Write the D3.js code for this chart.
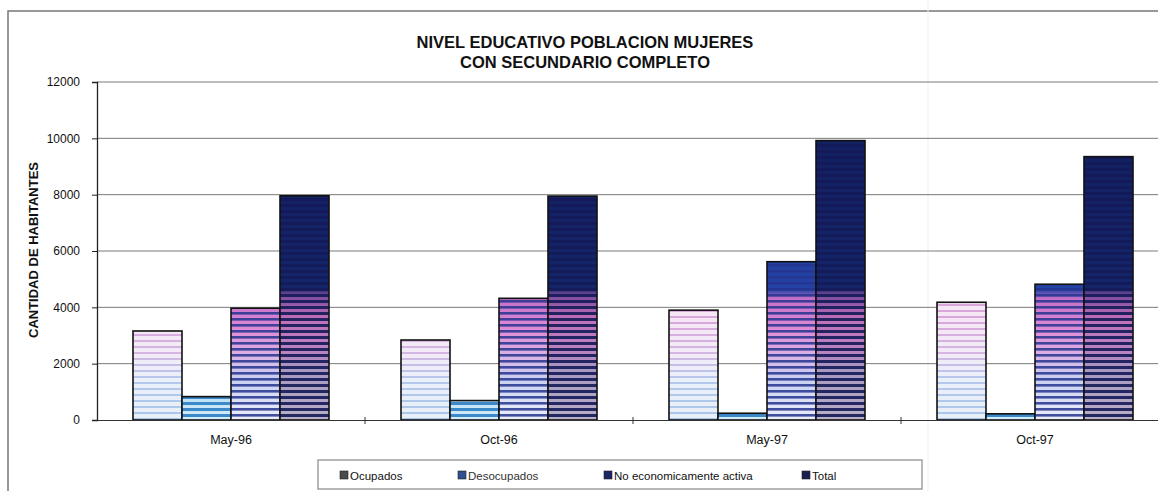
<!DOCTYPE html>
<html>
<head>
<meta charset="utf-8">
<script src="https://cdn.jsdelivr.net/npm/d3@7"></script>
<style>
  body { margin: 0; background: #fff; }
  text { font-family: Arial, "Liberation Sans", sans-serif; }
</style>
</head>
<body>
<div id="chart"></div>
<script>
// data
const categories = ["May-96", "Oct-96", "May-97", "Oct-97"];
const seriesNames = ["Ocupados", "Desocupados", "No economicamente activa", "Total"];
const ocupados = [3160, 2840, 3900, 4180];
const desocupados = [830, 690, 240, 220];
const noActiva = [3970, 4320, 5620, 4820];
const total = [7960, 7950, 9920, 9350];
const yTicks = [0, 2000, 4000, 6000, 8000, 10000, 12000];
const titleLines = ["NIVEL EDUCATIVO POBLACION MUJERES", "CON SECUNDARIO COMPLETO"];
const yTitle = "CANTIDAD DE HABITANTES";

const allSeries = [ocupados, desocupados, noActiva, total];

const width = 1158, height = 491;
const margin = { top: 82, right: -11, bottom: 71, left: 97 };

const svg = d3.select("#chart").append("svg")
    .attr("width", width)
    .attr("height", height);

const xScale = d3.scaleBand()
    .domain(categories)
    .range([margin.left, width - margin.right]);

const inner = d3.scaleBand()
    .domain(seriesNames)
    .range([36, xScale.bandwidth() - 36]);

const yScale = d3.scaleLinear()
    .domain([0, 12000])
    .range([height - margin.bottom, margin.top]);

// gradient + stripe fills, fixed to the plot (like the scanned Excel fill)
const fills = [
    { stops: [[0, "#a9c6ea"], [0.12, "#b5c8ec"], [0.2, "#d3b6e2"], [0.3, "#d9a6dc"], [1, "#d9a6dc"]],
      stripe: "#ffffff", op: 0.72, h: 4 },
    { stops: [[0, "#d4edfa"], [0.1, "#b4dbf3"], [1, "#9ccbee"]],
      stripe: "#2c7fc6", op: 0.9, h: 3 },
    { stops: [[0, "#eceefa"], [0.12, "#c9d1f0"], [0.18, "#d8b8e8"], [0.26, "#e08ed6"], [0.36, "#c470c8"], [0.385, "#2342a4"], [1, "#1a3592"]],
      stripe: "#25348f", op: 0.85, h: 2.6 },
    { stops: [[0, "#b8b0c6"], [0.15, "#a898c0"], [0.2, "#b784c0"], [0.3, "#c070b8"], [0.37, "#7a4c9c"], [0.39, "#15256a"], [1, "#0f1f5c"]],
      stripe: "#141a58", op: 0.9, h: 3 }
];

const defs = svg.append("defs");
fills.forEach((f, i) => {
    const g = defs.append("linearGradient")
        .attr("id", "grad" + i)
        .attr("gradientUnits", "userSpaceOnUse")
        .attr("x1", 0).attr("x2", 0)
        .attr("y1", yScale(0)).attr("y2", yScale(12000));
    f.stops.forEach(s => g.append("stop").attr("offset", s[0]).attr("stop-color", s[1]));

    const p = defs.append("pattern")
        .attr("id", "stripe" + i)
        .attr("patternUnits", "userSpaceOnUse")
        .attr("width", 8).attr("height", 6);
    p.append("rect")
        .attr("x", 0).attr("y", 0)
        .attr("width", 8).attr("height", f.h)
        .attr("fill", f.stripe)
        .attr("opacity", f.op);
});

// outer frame
svg.append("path")
    .attr("d", `M8,${height} L8,11 L${width},11`)
    .attr("fill", "none")
    .attr("stroke", "#777")
    .attr("stroke-width", 1.5);

// faint fold in the scan
svg.append("line")
    .attr("x1", 928).attr("x2", 928)
    .attr("y1", 0).attr("y2", height)
    .attr("stroke", "#f1f1f1");

// gridlines
svg.append("g")
    .selectAll("line")
    .data(yTicks.filter(d => d > 0))
    .enter()
    .append("line")
    .attr("x1", margin.left).attr("x2", width)
    .attr("y1", d => yScale(d)).attr("y2", d => yScale(d))
    .attr("stroke", "#7a7a7a")
    .attr("stroke-width", 1);

// bars
categories.forEach((cat, ci) => {
    seriesNames.forEach((name, si) => {
        const v = allSeries[si][ci];
        const x = xScale(cat) + inner(name);
        const y = yScale(v);
        const h = yScale(0) - y;
        svg.append("rect")
            .attr("x", x).attr("y", y)
            .attr("width", inner.bandwidth()).attr("height", h)
            .attr("fill", `url(#grad${si})`);
        svg.append("rect")
            .attr("x", x).attr("y", y)
            .attr("width", inner.bandwidth()).attr("height", h)
            .attr("fill", `url(#stripe${si})`)
            .attr("stroke", "#111")
            .attr("stroke-width", 1.6);
    });
});

// y axis
const yAxis = d3.axisLeft(yScale)
    .tickValues(yTicks)
    .tickSize(5)
    .tickPadding(12)
    .tickFormat(d3.format("d"));

const yG = svg.append("g")
    .attr("transform", `translate(${margin.left},0)`)
    .call(yAxis);
yG.select(".domain").attr("stroke", "#222").attr("stroke-width", 1.3);
yG.selectAll(".tick line").attr("stroke", "#222");
yG.selectAll("text")
    .attr("font-size", 12)
    .attr("fill", "#111")
    .attr("font-family", "Arial, 'Liberation Sans', sans-serif");

// x axis
const xAxis = d3.axisBottom(xScale)
    .tickSize(0)
    .tickPadding(15);
const xG = svg.append("g")
    .attr("transform", `translate(0,${yScale(0)})`)
    .call(xAxis);
xG.select(".domain").attr("stroke", "#333").attr("stroke-width", 1.2);
xG.selectAll("text")
    .attr("font-size", 12.5)
    .attr("fill", "#111")
    .attr("font-family", "Arial, 'Liberation Sans', sans-serif");

// category separators on x axis
svg.append("g")
    .selectAll("line")
    .data(categories.slice(1))
    .enter()
    .append("line")
    .attr("x1", d => xScale(d)).attr("x2", d => xScale(d))
    .attr("y1", yScale(0) - 3).attr("y2", yScale(0) + 4)
    .attr("stroke", "#333");

// title
titleLines.forEach((t, i) => {
    svg.append("text")
        .attr("text-anchor", "middle")
        .attr("x", 585)
        .attr("y", 48 + i * 20)
        .attr("font-size", 16.5)
        .attr("font-weight", "bold")
        .attr("fill", "#111")
        .text(t);
});

// y title
svg.append("text")
    .attr("text-anchor", "middle")
    .attr("transform", `translate(38,250) rotate(-90)`)
    .attr("font-size", 13)
    .attr("font-weight", "bold")
    .attr("fill", "#111")
    .text(yTitle);

// legend
const legend = svg.append("g").attr("transform", "translate(318,460)");
legend.append("rect")
    .attr("x", 0).attr("y", 0)
    .attr("width", 604).attr("height", 29)
    .attr("fill", "#fff")
    .attr("stroke", "#888")
    .attr("stroke-width", 1.2);

const legendX = [22, 140, 286, 484];
const swatchColors = ["#4a4a4a", "#2f4f90", "#1b2664", "#1a2050"];
seriesNames.forEach((name, i) => {
    legend.append("rect")
        .attr("x", legendX[i]).attr("y", 11)
        .attr("width", 8).attr("height", 8)
        .attr("fill", swatchColors[i])
        .attr("stroke", "#222")
        .attr("stroke-width", 0.6);
    legend.append("text")
        .attr("x", legendX[i] + 10)
        .attr("y", 19.5)
        .attr("font-size", 11.5)
        .attr("fill", i === 1 ? "#333" : "#111")
        .text(name);
});
</script>
</body>
</html>
